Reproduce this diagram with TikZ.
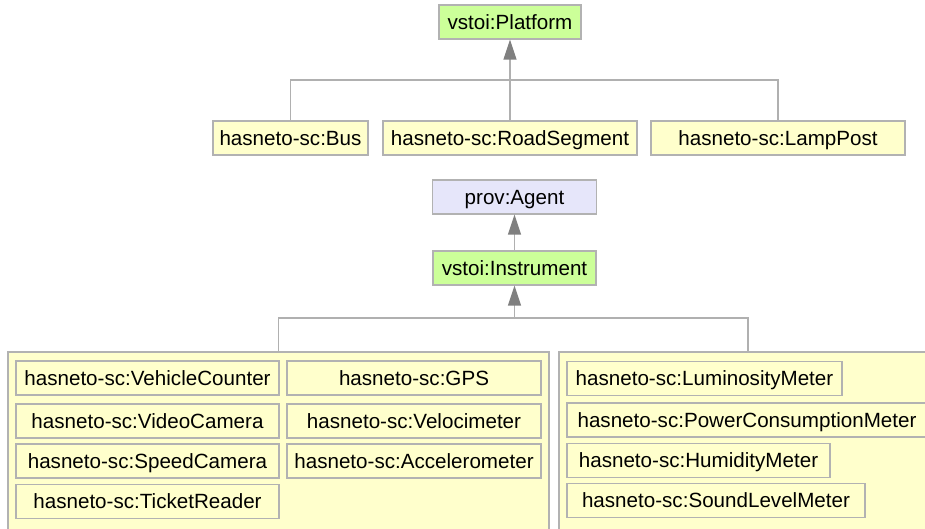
\documentclass[tikz,border=0pt]{standalone}
\usepackage{fontspec}
\setmainfont{Liberation Sans}
\usetikzlibrary{arrows.meta}
\definecolor{platgreen}{RGB}{204,255,153}
\definecolor{classyellow}{RGB}{255,255,204}
\definecolor{agentblue}{RGB}{230,230,250}
\definecolor{edgegray}{RGB}{178,178,178}
\definecolor{linkgray}{RGB}{176,176,176}
\definecolor{tipgray}{RGB}{128,128,128}
\begin{document}
\begin{tikzpicture}[x=1pt,y=-1pt,
	cls/.style={draw=edgegray, line width=1.2pt, fill=classyellow, inner sep=0pt, minimum height=34pt, text height=14.5pt, text depth=0pt, font=\fontsize{20.6}{24}\selectfont},
	grp/.style={draw=edgegray, line width=1.2pt, fill=classyellow, inner sep=0pt},
	link/.style={draw=linkgray, line width=1.3pt},
	isa/.style={link, -{Triangle[width=13pt,length=20pt,fill=tipgray,color=tipgray]}}]
	\useasboundingbox (0,0) rectangle (925,529);
	\clip (0,0) rectangle (925,529);

	\node[cls, fill=platgreen, minimum width=142pt] (platform) at (510,22) {vstoi:Platform};
	\node[cls, minimum width=155pt] (bus) at (290.5,138) {hasneto-sc:Bus};
	\node[cls, minimum width=254pt] (roadseg) at (510,138) {hasneto-sc:RoadSegment};
	\node[cls, minimum width=254pt] (lamppost) at (778,138) {hasneto-sc:LampPost};

	\coordinate (ptree) at (510,80);
	\draw[link] (bus.north) |- (ptree) -| (lamppost.north);
	\draw[isa] (roadseg.north) -- (platform.south);

	\node[cls, fill=agentblue, minimum width=164pt] (agent) at (514.5,197) {prov:Agent};
	\node[cls, fill=platgreen, minimum width=163pt] (instrument) at (514.5,268) {vstoi:Instrument};
	\draw[isa] (instrument.north) -- (agent.south);

	\node[grp, minimum width=541pt, minimum height=200pt] (leftgroup) at (278.5,452) {};
	\node[grp, minimum width=378pt, minimum height=200pt] (rightgroup) at (748,452) {};

	\coordinate (itree) at (514.5,318);
	\draw[link] (leftgroup.north) |- (itree) -| (rightgroup.north);
	\draw[isa] (itree) -- (instrument.south);

	\node[cls, minimum width=263pt] (vehcounter) at (147.5,378) {hasneto-sc:VehicleCounter};
	\node[cls, minimum width=263pt] (videocam) at (147.5,421) {hasneto-sc:VideoCamera};
	\node[cls, minimum width=263pt] (speedcam) at (147.5,461) {hasneto-sc:SpeedCamera};
	\node[cls, minimum width=263pt] (ticketreader) at (147.5,501.5) {hasneto-sc:TicketReader};

	\node[cls, minimum width=254pt] (gps) at (414,378) {hasneto-sc:GPS};
	\node[cls, minimum width=254pt] (velocimeter) at (414,421) {hasneto-sc:Velocimeter};
	\node[cls, minimum width=254pt] (accel) at (414,461) {hasneto-sc:Accelerometer};

	\node[cls, minimum width=275pt] (luminosity) at (704.5,378.5) {hasneto-sc:LuminosityMeter};
	\node[cls, minimum width=360pt] (powercons) at (747,420) {hasneto-sc:PowerConsumptionMeter};
	\node[cls, minimum width=263pt] (humidity) at (698.5,460.5) {hasneto-sc:HumidityMeter};
	\node[cls, minimum width=298pt] (soundlevel) at (716,500.5) {hasneto-sc:SoundLevelMeter};
\end{tikzpicture}
\end{document}
